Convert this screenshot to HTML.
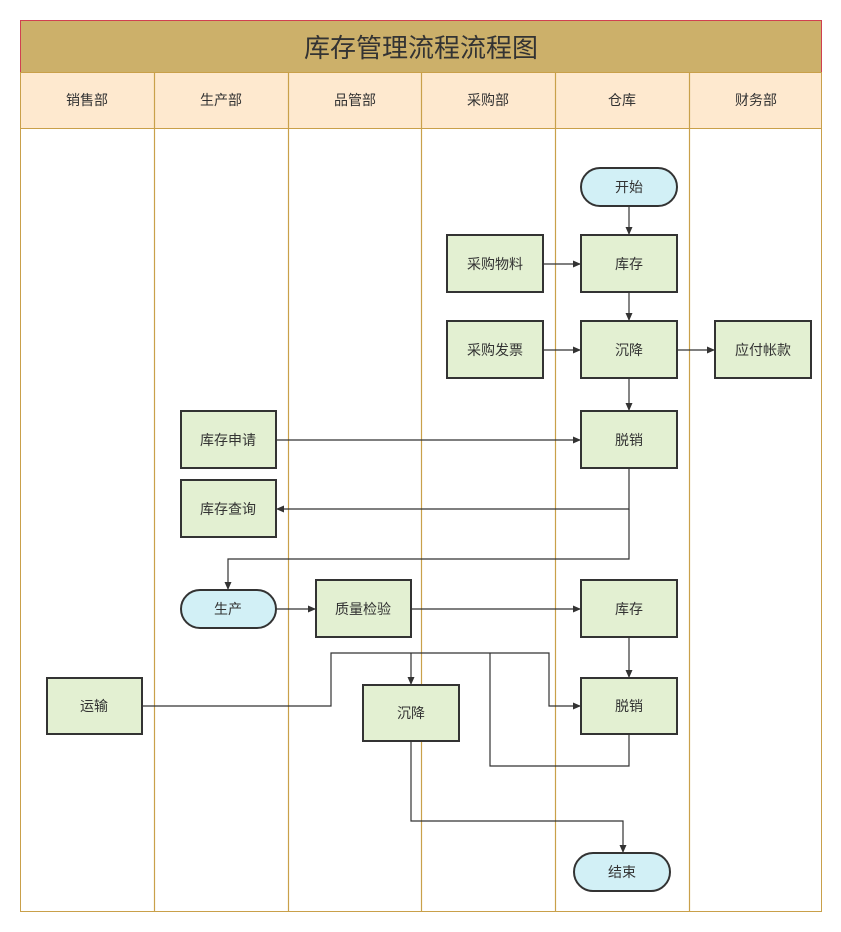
<!DOCTYPE html>
<html><head><meta charset="utf-8"><style>
html,body{margin:0;padding:0;background:#fff;}
svg{display:block;}
text{font-family:"Liberation Sans","Noto Sans CJK SC",sans-serif;fill:#333;}
</style></head><body>
<svg width="841" height="932" viewBox="0 0 841 932" xmlns="http://www.w3.org/2000/svg">
<defs><marker id="a" markerWidth="8" markerHeight="8" refX="7" refY="4" orient="auto" markerUnits="userSpaceOnUse"><path d="M0,0.5 L8,4 L0,7.5 z" fill="#333"/></marker></defs>
<rect x="20.5" y="20.5" width="801" height="891" fill="#fff" stroke="#c9a04a"/>
<rect x="20.5" y="20.5" width="801" height="52" fill="#ccb06a" stroke="#d04050"/>
<text x="421" y="57" font-size="26" text-anchor="middle">库存管理流程流程图</text>
<rect x="20.5" y="72.5" width="801" height="56" fill="#fee9cf" stroke="#c9a04a"/>
<g stroke="#c9a04a" stroke-width="1.2">
<line x1="154.5" y1="72" x2="154.5" y2="912"/><line x1="288.5" y1="72" x2="288.5" y2="912"/><line x1="421.5" y1="72" x2="421.5" y2="912"/><line x1="555.5" y1="72" x2="555.5" y2="912"/><line x1="689.5" y1="72" x2="689.5" y2="912"/>
</g>
<g font-size="14" text-anchor="middle">
<text x="87" y="105">销售部</text><text x="221" y="105">生产部</text><text x="355" y="105">品管部</text><text x="488" y="105">采购部</text><text x="622" y="105">仓库</text><text x="756" y="105">财务部</text>
</g>
<g fill="none" stroke="#333" stroke-width="1.2">
<path d="M629,206V234" marker-end="url(#a)"/>
<path d="M543,264H580" marker-end="url(#a)"/>
<path d="M629,292V320" marker-end="url(#a)"/>
<path d="M543,350H580" marker-end="url(#a)"/>
<path d="M677,350H714" marker-end="url(#a)"/>
<path d="M629,378V410" marker-end="url(#a)"/>
<path d="M276,440H580" marker-end="url(#a)"/>
<path d="M629,468V509H277" marker-end="url(#a)"/>
<path d="M629,509V559H228V589" marker-end="url(#a)"/>
<path d="M276,609H315" marker-end="url(#a)"/>
<path d="M411,609H580" marker-end="url(#a)"/>
<path d="M629,637V677" marker-end="url(#a)"/>
<path d="M142,706H331V653H549V706H580" marker-end="url(#a)"/>
<path d="M411,653V684" marker-end="url(#a)"/>
<path d="M629,734V766H490V653"/>
<path d="M411,741V821H623V852" marker-end="url(#a)"/>
</g>
<g stroke="#333" stroke-width="2" font-size="14" text-anchor="middle">
<rect x="581" y="168" width="96" height="38" rx="19" fill="#d2f0f6"/>
<rect x="181" y="590" width="95" height="38" rx="19" fill="#d2f0f6"/>
<rect x="574" y="853" width="96" height="38" rx="19" fill="#d2f0f6"/>
<g fill="#e3f0d2">
<rect x="447" y="235" width="96" height="57"/><rect x="581" y="235" width="96" height="57"/>
<rect x="447" y="321" width="96" height="57"/><rect x="581" y="321" width="96" height="57"/>
<rect x="715" y="321" width="96" height="57"/><rect x="581" y="411" width="96" height="57"/>
<rect x="181" y="411" width="95" height="57"/><rect x="181" y="480" width="95" height="57"/>
<rect x="316" y="580" width="95" height="57"/><rect x="581" y="580" width="96" height="57"/>
<rect x="47" y="678" width="95" height="56"/><rect x="363" y="685" width="96" height="56"/>
<rect x="581" y="678" width="96" height="56"/>
</g>
</g>
<g font-size="14" text-anchor="middle">
<text x="629" y="192">开始</text><text x="228" y="614">生产</text><text x="622" y="877">结束</text>
<text x="495" y="269">采购物料</text><text x="629" y="269">库存</text>
<text x="495" y="355">采购发票</text><text x="629" y="355">沉降</text>
<text x="763" y="355">应付帐款</text><text x="629" y="445">脱销</text>
<text x="228" y="445">库存申请</text><text x="228" y="514">库存查询</text>
<text x="363" y="614">质量检验</text><text x="629" y="614">库存</text>
<text x="94" y="711">运输</text><text x="411" y="718">沉降</text><text x="629" y="711">脱销</text>
</g>
</svg>
</body></html>
